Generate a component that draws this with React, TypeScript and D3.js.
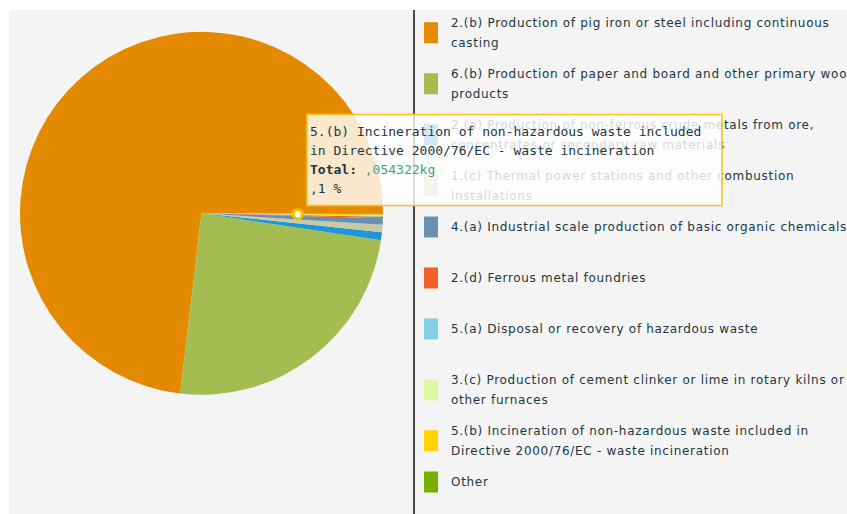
import React from "react";
import * as d3 from "d3";

const categories: string[] = [
  "2.(b) Production of pig iron or steel including continuous casting",
  "6.(b) Production of paper and board and other primary wood products",
  "2.(a) Production of non-ferrous crude metals from ore, concentrates or secondary raw materials",
  "1.(c) Thermal power stations and other combustion installations",
  "4.(a) Industrial scale production of basic organic chemicals",
  "2.(d) Ferrous metal foundries",
  "5.(a) Disposal or recovery of hazardous waste",
  "3.(c) Production of cement clinker or lime in rotary kilns or other furnaces",
  "5.(b) Incineration of non-hazardous waste included in Directive 2000/76/EC - waste incineration",
  "Other",
];

const legendLines: string[][] = [
  ["2.(b) Production of pig iron or steel including continuous", "casting"],
  ["6.(b) Production of paper and board and other primary wood", "products"],
  ["2.(a) Production of non-ferrous crude metals from ore,", "concentrates or secondary raw materials"],
  ["1.(c) Thermal power stations and other combustion", "installations"],
  ["4.(a) Industrial scale production of basic organic chemicals"],
  ["2.(d) Ferrous metal foundries"],
  ["5.(a) Disposal or recovery of hazardous waste"],
  ["3.(c) Production of cement clinker or lime in rotary kilns or", "other furnaces"],
  ["5.(b) Incineration of non-hazardous waste included in", "Directive 2000/76/EC - waste incineration"],
  ["Other"],
];

const values: number[] = [39.7, 13.3, 0.39, 0.35, 0.31, 0.08, 0.03, 0.025, 0.054322, 0.05];

const colors: string[] = [
  "#E38A00", "#A5BD50", "#1E96DA", "#C9C9A2", "#6890B0",
  "#F06029", "#83D0E6", "#E2F7A6", "#FFD200", "#78AE00",
];

const tooltipLines: string[] = [
  "5.(b) Incineration of non-hazardous waste included",
  "in Directive 2000/76/EC - waste incineration",
];
const tooltipTotal = ",054322kg";
const tooltipPct = ",1 %";
const highlighted = 8;

export default function App() {
  const W = 847, H = 514;
  const cx = 201.5, cy = 213.3, R = 181.5;

  const pie = d3
    .pie<number>()
    .sort(null)
    .startAngle(Math.PI / 2)
    .endAngle(Math.PI / 2 - 2 * Math.PI);
  const arcs = pie(values);
  const arc = d3.arc<d3.PieArcDatum<number>>().innerRadius(0).outerRadius(R);
  const cArc = d3.arc<d3.PieArcDatum<number>>().innerRadius(0).outerRadius(R * 1.06);
  const [mx, my] = cArc.centroid(arcs[highlighted]);

  const legendX = 424;
  const rowStep = 51;
  const firstY = 23;
  const lineH = 19.5;

  return (
    <svg
      width={W}
      height={H}
      style={{ position: "fixed", left: 0, top: 0, display: "block", zIndex: 10 }}
    >
      <rect x={0} y={0} width={W} height={H} fill="#ffffff" />
      <rect x={9} y={10} width={W - 9} height={H - 10} fill="#F4F4F4" />
      <g transform={`translate(${cx},${cy})`}>
        {arcs.map((a, i) => (
          <path key={i} d={arc(a) || ""} fill={colors[i]} />
        ))}
      </g>
      <line x1={414} y1={10} x2={414} y2={H} stroke="#111" strokeWidth={1.5} />
      <g fontFamily="'DejaVu Sans', Verdana, sans-serif" fontSize={12} fill="#22363F">
        {legendLines.map((lines, i) => {
          const top = firstY + i * rowStep;
          const mid = top + ((lines.length - 1) * lineH) / 2;
          return (
            <g key={i}>
              <rect x={legendX} y={mid - 10.5} width={14} height={21} fill={colors[i]} />
              {lines.map((t, j) => (
                <text key={j} x={451} y={top + j * lineH} dy="0.35em" letterSpacing={0.7}>
                  {t}
                </text>
              ))}
            </g>
          );
        })}
      </g>
      <g>
        <rect
          x={307}
          y={114.5}
          width={415}
          height={91}
          fill="#ffffff"
          fillOpacity={0.8}
          stroke="#F5C516"
          strokeWidth={1.5}
        />
        <g fontFamily="'DejaVu Sans Mono', monospace" fontSize={13} fill="#1F3540">
          {tooltipLines.map((t, j) => (
            <text key={j} x={310} y={131 + j * 19} dy="0.35em">
              {t}
            </text>
          ))}
          <text x={310} y={169} dy="0.35em">
            <tspan fontWeight="bold">Total:</tspan>
            <tspan fill="#3AA56E"> {tooltipTotal}</tspan>
          </text>
          <text x={310} y={188} dy="0.35em">
            {tooltipPct}
          </text>
        </g>
      </g>
      <circle cx={cx + mx} cy={cy + my} r={4.5} fill="#ffffff" stroke="#F7C600" strokeWidth={3} />
    </svg>
  );
}
